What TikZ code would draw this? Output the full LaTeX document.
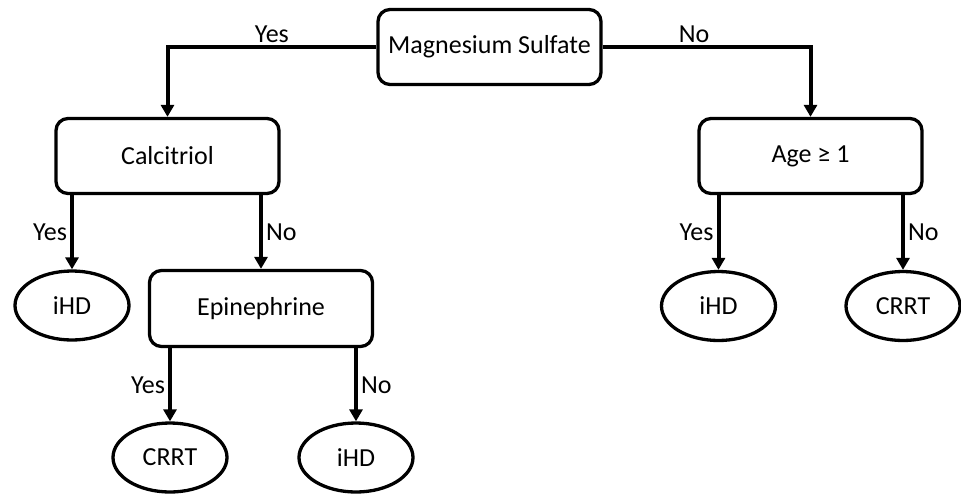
\documentclass[tikz,border=0pt]{standalone}
\usepackage{fontspec}
\setmainfont{Carlito}
\usetikzlibrary{shapes.geometric,arrows.meta}
\begin{document}
\begin{tikzpicture}[x=1pt,y=-1pt,
  font=\fontsize{26}{31}\selectfont,
  box/.style={draw,line width=3.3pt,rounded corners=12pt,minimum width=223pt,minimum height=75pt,inner sep=0pt},
  leaf/.style={draw,ellipse,line width=3.3pt,minimum width=114pt,minimum height=69pt,inner sep=0pt},
  arr/.style={line width=4pt,-{Triangle[length=12pt,width=13pt]}},
  lbl/.style={inner sep=3pt}]
\useasboundingbox (0,0) rectangle (961,496);
\node[box] (ms) at (489.5,47) {Magnesium Sulfate};
\node[box] (calc) at (167.5,156) {Calcitriol};
\node[box] (age) at (810.5,156) {Age ≥ 1};
\node[box,minimum height=76pt] (epi) at (261,308.5) {Epinephrine};
\node[leaf] (ihdA) at (72,305.5) {iHD};
\node[leaf] (crrtB) at (170,457.5) {CRRT};
\node[leaf] (ihdB) at (356,457.5) {iHD};
\node[leaf] (ihdC) at (718.5,306) {iHD};
\node[leaf] (crrtC) at (903,306) {CRRT};
\draw[arr] (ms.west) -| node[pos=0.25,above,inner sep=2pt]{Yes} (calc.north);
\draw[arr] (ms.east) -| node[pos=0.22,above,inner sep=2pt]{No} (age.north);
\draw[arr] (calc.south -| ihdA.north) -- node[midway,left,lbl]{Yes} (ihdA.north);
\draw[arr] (calc.south -| epi.north) -- node[midway,right,lbl]{No} (epi.north);
\draw[arr] (epi.south -| crrtB.north) -- node[midway,left,lbl]{Yes} (crrtB.north);
\draw[arr] (epi.south -| ihdB.north) -- node[midway,right,lbl]{No} (ihdB.north);
\draw[arr] (age.south -| ihdC.north) -- node[midway,left,lbl]{Yes} (ihdC.north);
\draw[arr] (age.south -| crrtC.north) -- node[midway,right,lbl]{No} (crrtC.north);
\end{tikzpicture}
\end{document}
